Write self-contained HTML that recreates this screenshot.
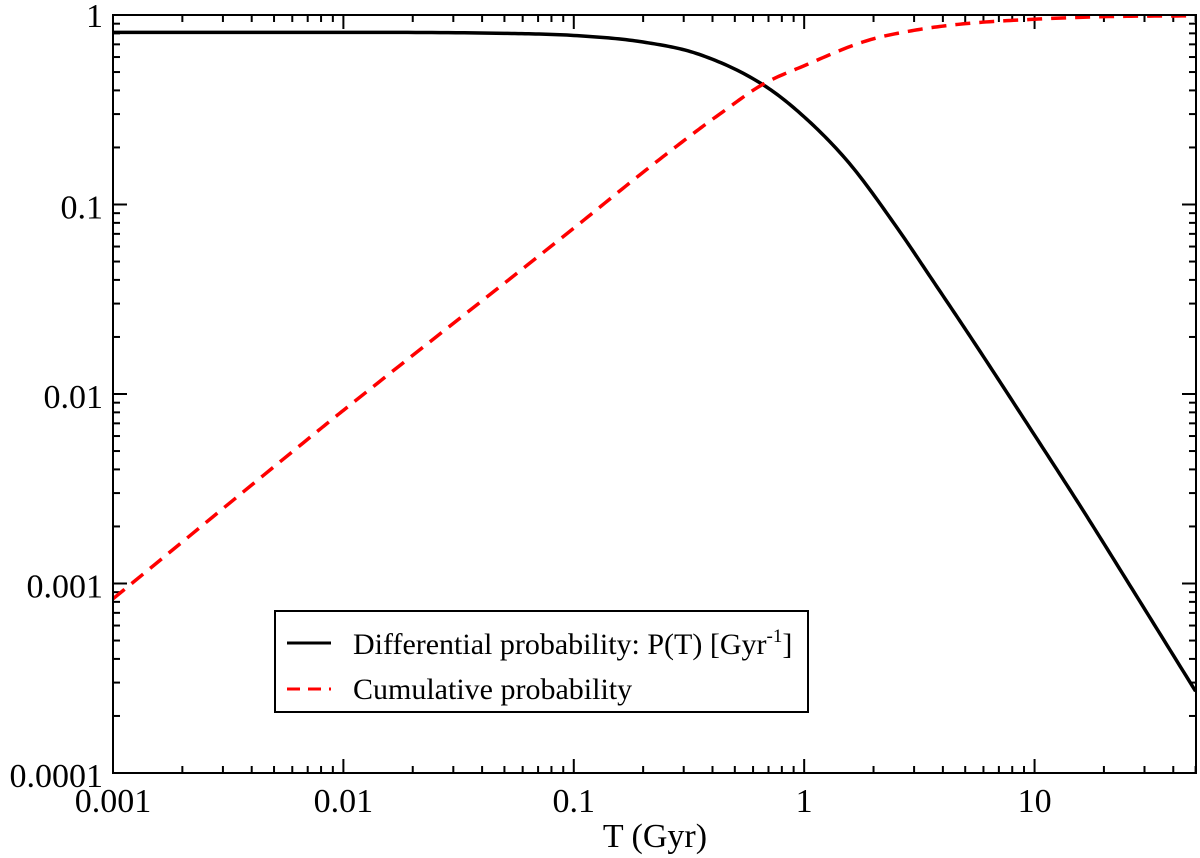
<!DOCTYPE html>
<html><head><meta charset="utf-8"><style>
html,body{margin:0;padding:0;background:#fff;}
svg{display:block;font-family:"Liberation Serif",serif;}
</style></head><body>
<svg id="chart" width="1200" height="858" viewBox="0 0 1200 858" xmlns="http://www.w3.org/2000/svg">
<g id="ticks"></g>
<g id="series"></g>
<rect x="113" y="15" width="1083" height="758" fill="none" stroke="#000" stroke-width="2"/>
<text x="655" y="847" font-size="34" text-anchor="middle">T (Gyr)</text>
<g>
<rect x="275" y="611" width="533" height="101" fill="#fff" stroke="#000" stroke-width="2"/>
<line x1="287" y1="643" x2="331" y2="643" stroke="#000" stroke-width="3"/>
<text x="353" y="654" font-size="30">Differential probability: P(T) [Gyr<tspan dy="-12" font-size="19">-1</tspan><tspan dy="12">]</tspan></text>
<line x1="287" y1="689" x2="331" y2="689" stroke="#f00" stroke-width="3" stroke-dasharray="13,8"/>
<text x="353" y="699" font-size="30">Cumulative probability</text>
</g>
</svg>
<script>
const diffT = [0.001,0.01,0.05,0.1,0.2,0.35,0.66,1,1.57,2.5,3.6,5.5,9.8,16,26.6,50];
const diffP = [0.81,0.81,0.80,0.78,0.72,0.62,0.43,0.29,0.165,0.077,0.040,0.0185,0.0063,0.0025,0.00093,0.00027];
const cumT = [0.001,0.0074,0.01,0.1,0.2,0.35,0.43,0.66,1,1.86,3,5,10,20,50];
const cumP = [0.00083,0.0061,0.0082,0.075,0.148,0.25,0.30,0.43,0.54,0.73,0.83,0.9,0.95,0.98,0.99];
const xTickVals = [0.001,0.01,0.1,1,10];
const xTickLabels = ["0.001","0.01","0.1","1","10"];
const yTickVals = [1,0.1,0.01,0.001,0.0001];
const yTickLabels = ["1","0.1","0.01","0.001","0.0001"];

const L=113,R=1196,T=15,B=773;
const xMin=-3,xMax=Math.log10(50.2),yMin=-4,yMax=0;
function xs(v){return L+(Math.log10(v)-xMin)/(xMax-xMin)*(R-L);}
function ys(v){return B-(Math.log10(v)-yMin)/(yMax-yMin)*(B-T);}
const NS="http://www.w3.org/2000/svg";
const tg=document.getElementById('ticks');
function line(x1,y1,x2,y2,name){
  const l=document.createElementNS(NS,'line');
  l.setAttribute('x1',x1);l.setAttribute('y1',y1);l.setAttribute('x2',x2);l.setAttribute('y2',y2);
  l.setAttribute('stroke','#000');l.setAttribute('stroke-width','2');
  
  
  tg.appendChild(l);
}
function text(x,y,s,anchor,name){
  const t=document.createElementNS(NS,'text');
  t.setAttribute('x',x);t.setAttribute('y',y);t.setAttribute('font-size','34');t.setAttribute('text-anchor',anchor);
  t.textContent=s;
  
  
  tg.appendChild(t);
}
for(let e=-3;e<=1;e++){
  for(let m=1;m<=9;m++){
    const v=m*Math.pow(10,e); if(v>50) break;
    const x=xs(v), len=m===1?14:7;
    line(x,B,x,B-len,'x-tick');
    line(x,T,x,T+len,'x-tick-top');
  }
}
xTickVals.forEach((v,i)=>text(xs(v),812,xTickLabels[i],'middle','x-tick-label'));
for(let e=-4;e<=-1;e++){
  for(let m=1;m<=9;m++){
    const v=m*Math.pow(10,e);
    const y=ys(v), len=m===1?14:7;
    line(L,y,L+len,y,'y-tick');
    line(R,y,R-len,y,'y-tick-right');
  }
}
line(L,ys(1),L+14,ys(1),'y-tick');line(R,ys(1),R-14,ys(1),'y-tick-right');
yTickVals.forEach((v,i)=>text(103,ys(v)+(i===0?12:14),yTickLabels[i],'end','y-tick-label'));

const sg=document.getElementById('series');
function monotone(xv,yv){
  const n=xv.length,d=[],m=new Array(n);
  for(let i=0;i<n-1;i++)d.push((yv[i+1]-yv[i])/(xv[i+1]-xv[i]));
  m[0]=d[0];m[n-1]=d[n-2];
  for(let i=1;i<n-1;i++){m[i]=(d[i-1]*d[i]<=0)?0:(d[i-1]+d[i])/2;}
  for(let i=0;i<n-1;i++){
    if(d[i]===0){m[i]=0;m[i+1]=0;continue;}
    const a=m[i]/d[i],b=m[i+1]/d[i],s=a*a+b*b;
    if(s>9){const t=3/Math.sqrt(s);m[i]=t*a*d[i];m[i+1]=t*b*d[i];}
  }
  return {d,m};
}
function path(ts,ps,color,dash,name){
  const lx=ts.map(Math.log10),ly=ps.map(Math.log10);
  const {m}=monotone(lx,ly);
  let d='';
  for(let i=0;i<lx.length-1;i++){
    const h=lx[i+1]-lx[i];
    for(let k=0;k<=20;k++){
      if(i>0&&k===0)continue;
      const t=k/20,t2=t*t,t3=t2*t;
      const y=(2*t3-3*t2+1)*ly[i]+(t3-2*t2+t)*h*m[i]+(-2*t3+3*t2)*ly[i+1]+(t3-t2)*h*m[i+1];
      const x=lx[i]+t*h;
      const px=L+(x-xMin)/(xMax-xMin)*(R-L), py=B-(y-yMin)/(yMax-yMin)*(B-T);
      d+=(d?' L':'M')+px.toFixed(2)+','+py.toFixed(2);
    }
  }
  const p=document.createElementNS(NS,'path');
  p.setAttribute('d',d);p.setAttribute('fill','none');p.setAttribute('stroke',color);
  p.setAttribute('stroke-width','3.5');
  if(dash)p.setAttribute('stroke-dasharray',dash);
  
  
  sg.appendChild(p);
}
path(diffT,diffP,'#000',null,'differential-probability-line');
path(cumT,cumP,'#f00','15,9','cumulative-probability-line');
</script>
</body></html>
